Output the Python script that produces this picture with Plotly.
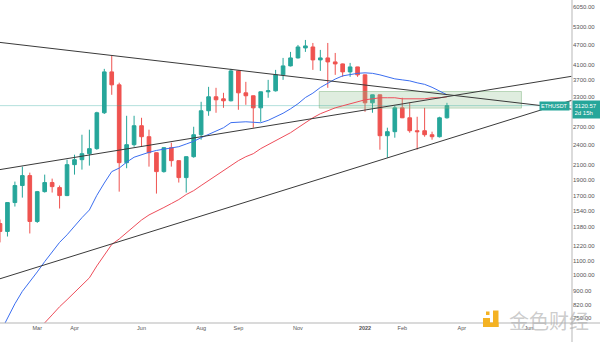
import math
import pandas as pd
import plotly.graph_objects as go

# ---------------- data (weekly ETHUSDT) ----------------
week_dates = pd.date_range("2021-01-25", periods=61, freq="7D")

opens = [1414, 1341, 1628, 1825, 1951, 1434, 1752, 1862, 1800, 1706,
         2100, 2171, 2260, 2338, 2975, 3914, 3588, 2128, 2401, 2727,
         2533, 2275, 2004, 2353, 2157, 1925, 2215, 2567, 3015, 3312,
         3267, 3224, 3940, 3401, 3334, 3075, 3424, 3447, 3837, 4075,
         4299, 4597, 4627, 4242, 4299, 4185, 4129, 3914, 4047, 3837,
         3180, 3356, 2550, 2620, 3075, 2876, 2637, 2637, 2567, 2533,
         2876]
highs = [1453, 1630, 1874, 2072, 1990, 1760, 1964, 1912, 1825, 2171,
         2245, 2567, 2655, 2995, 3994, 4357, 3640, 2915, 2915, 2876,
         2655, 2280, 2360, 2433, 2160, 2220, 2708, 3202, 3540, 3517,
         3401, 3994, 3960, 3661, 3340, 3430, 3710, 3967, 4299, 4476,
         4690, 4850, 4753, 4536, 4753, 4445, 4140, 4157, 4050, 3840,
         3360, 3360, 2691, 3120, 3290, 3180, 2896, 3075, 2620, 2896,
         3180]
lows = [1246, 1296, 1585, 1683, 1323, 1420, 1741, 1741, 1564, 1700,
        1964, 2031, 2086, 2320, 2950, 3356, 1752, 2050, 2369, 2369,
        2072, 1729, 1990, 2072, 1862, 1741, 2200, 2483, 2915, 2975,
        3075, 3210, 3035, 3138, 2691, 2800, 3290, 3430, 3710, 4060,
        4280, 4476, 3967, 3940, 3517, 3837, 3786, 3786, 3786, 2995,
        2975, 2322, 2200, 2516, 2870, 2602, 2322, 2533, 2483, 2520,
        2860]
closes = [1341, 1628, 1825, 1951, 1434, 1752, 1862, 1812, 1706, 2100,
          2171, 2260, 2338, 2975, 3914, 3588, 2128, 2401, 2727, 2533,
          2275, 2004, 2353, 2157, 1925, 2215, 2567, 3015, 3312, 3245,
          3224, 3940, 3401, 3334, 3075, 3424, 3447, 3837, 4075, 4299,
          4627, 4659, 4242, 4299, 4185, 4129, 3914, 4047, 3837, 3180,
          3356, 2550, 2620, 3075, 2876, 2637, 2620, 2567, 2533, 2876,
          3120.57]

ma_blue = [679, 749, 825, 897, 956, 1022, 1095, 1165, 1246, 1311,
           1390, 1471, 1549, 1709, 1856, 2004, 2052, 2135, 2207, 2248,
           2281, 2310, 2327, 2349, 2369, 2412, 2456, 2516, 2570, 2627,
           2690, 2784, 2791, 2800, 2791, 2782, 2827, 2896, 2965, 3055,
           3160, 3295, 3393, 3524, 3625, 3730, 3811, 3850, 3876, 3889,
           3876, 3837, 3786, 3735, 3710, 3685, 3637, 3600, 3529, 3436,
           3356]
ma_red = [None, None, None, None, None, 679, 726, 766, 809, 848,
          891, 937, 982, 1064, 1139, 1229, 1275, 1332, 1386, 1448,
          1498, 1533, 1575, 1617, 1661, 1718, 1764, 1825, 1886, 1951,
          2017, 2086, 2157, 2215, 2260, 2338, 2401, 2466, 2533, 2602,
          2691, 2782, 2876, 2955, 3015, 3075, 3117, 3159, 3202, 3245,
          3267, 3290, 3290, 3290, 3267, 3267, 3267, 3267, 3290, 3290,
          3312]

trend_dates = ["2021-01-18", "2022-07-18"]
trend_upper = [4798, 3043]
trend_middle = [2015, 3808]
trend_lower = [961, 3245]

zone_dates = ["2021-11-21", "2022-05-30"]
zone_prices = [3069, 3431]

last_price = 3120.57

y_ticks = [750, 820, 900, 1000, 1100, 1220, 1380, 1540, 1700, 1900,
           2100, 2400, 2700, 3300, 3700, 4100, 4700, 5300, 6050]
x_tick_dates = ["2021-03-01", "2021-04-05", "2021-06-07", "2021-08-02",
                "2021-09-06", "2021-11-01", "2022-01-03", "2022-02-07",
                "2022-04-04", "2022-06-06"]
x_tick_text = ["Mar", "Apr", "Jun", "Aug", "Sep", "Nov", "<b>2022</b>",
               "Feb", "Apr", "Jun"]

# ---------------- figure ----------------
GREEN = "#26a69a"
RED = "#ef5350"
LINE = "#3a3a3a"

fig = go.Figure()

# zone rectangle
fig.add_trace(go.Scatter(
    x=[zone_dates[0], zone_dates[1], zone_dates[1], zone_dates[0], zone_dates[0]],
    y=[zone_prices[0], zone_prices[0], zone_prices[1], zone_prices[1], zone_prices[0]],
    mode="lines", fill="toself", fillcolor="rgba(140,190,140,0.28)",
    line=dict(color="rgba(120,175,120,0.45)", width=1),
    hoverinfo="skip", showlegend=False))

# last price line
fig.add_trace(go.Scatter(
    x=trend_dates, y=[last_price, last_price], mode="lines",
    line=dict(color="rgba(38,166,154,0.35)", width=1),
    hoverinfo="skip", showlegend=False))

# moving averages
fig.add_trace(go.Scatter(x=week_dates, y=ma_blue, mode="lines",
                         line=dict(color="#3b6ef0", width=1), showlegend=False))
fig.add_trace(go.Scatter(x=week_dates, y=ma_red, mode="lines",
                         line=dict(color="#ee4d5a", width=1), showlegend=False))

# candles
fig.add_trace(go.Candlestick(
    x=week_dates, open=opens, high=highs, low=lows, close=closes,
    increasing=dict(line=dict(color=GREEN, width=1), fillcolor=GREEN),
    decreasing=dict(line=dict(color=RED, width=1), fillcolor=RED),
    whiskerwidth=0, showlegend=False))

# trend lines
for vals in (trend_upper, trend_middle, trend_lower):
    fig.add_trace(go.Scatter(x=trend_dates, y=vals, mode="lines",
                             line=dict(color=LINE, width=1),
                             hoverinfo="skip", showlegend=False))

PW, PH = 572, 323
def px(x):
    return x / PW
def py(y):
    return (PH - y) / PH

x0 = pd.Timestamp("2021-01-25")
x1 = x0 + pd.Timedelta(days=537.5)
ytop = 3.7818 + 7 / 343
ybot = 3.7818 - 316 / 343

shapes = [
    # right axis separator
    dict(type="line", xref="paper", yref="paper", x0=1, x1=1, y0=py(342), y1=1,
         line=dict(color="#cfcfcf", width=1.5)),
    # bottom axis separator
    dict(type="line", xref="paper", yref="paper", x0=0, x1=px(600), y0=0, y1=0,
         line=dict(color="#b5b5b5", width=1)),
]
# watermark logo blocks
LOGO = "#f4b223"
for (a, b, c, d) in [(483, 318, 490, 323.5), (493, 310.5, 498.5, 327),
                     (483, 322.5, 498.5, 327), (486, 311.5, 489.5, 315)]:
    shapes.append(dict(type="rect", xref="paper", yref="paper",
                       x0=px(a), x1=px(c), y0=py(d), y1=py(b),
                       fillcolor=LOGO, line=dict(width=0), layer="above"))

annotations = [
    dict(text="金色财经", xref="paper", yref="paper", x=px(549), y=py(320.5),
         xanchor="center", yanchor="middle", showarrow=False,
         font=dict(family="Noto Sans CJK SC", size=20, color="rgba(175,175,175,0.65)")),
    dict(text="ETHUSDT", xref="paper", yref="y", x=1, y=math.log10(last_price),
         xanchor="right", yanchor="middle", xshift=-2, showarrow=False,
         bgcolor=GREEN, borderpad=1,
         font=dict(family="Liberation Sans", size=5.5, color="white")),
    dict(text="3120.57<br>2d 15h", xref="paper", yref="y", x=1, y=math.log10(last_price),
         xanchor="left", yanchor="top", yshift=6, showarrow=False, align="left",
         bgcolor=GREEN, borderpad=1.5, width=24,
         font=dict(family="Liberation Sans", size=6, color="white")),
]

fig.update_layout(
    width=600, height=342,
    margin=dict(l=0, r=28, t=0, b=19, pad=0),
    paper_bgcolor="white", plot_bgcolor="white",
    showlegend=False,
    shapes=shapes, annotations=annotations,
    xaxis=dict(type="date", range=[x0, x1], rangeslider=dict(visible=False),
               showgrid=False, zeroline=False, showline=False, ticks="",
               tickmode="array", tickvals=x_tick_dates, ticktext=x_tick_text,
               tickfont=dict(family="Liberation Sans", size=5.5, color="#555555")),
    yaxis=dict(type="log", side="right", range=[ybot, ytop],
               showgrid=False, zeroline=False, showline=False, ticks="",
               tickmode="array", tickvals=y_ticks,
               ticktext=[f"{v:.2f}" for v in y_ticks],
               tickfont=dict(family="Liberation Sans", size=6, color="#555555")),
)

fig.write_html("out.html")
